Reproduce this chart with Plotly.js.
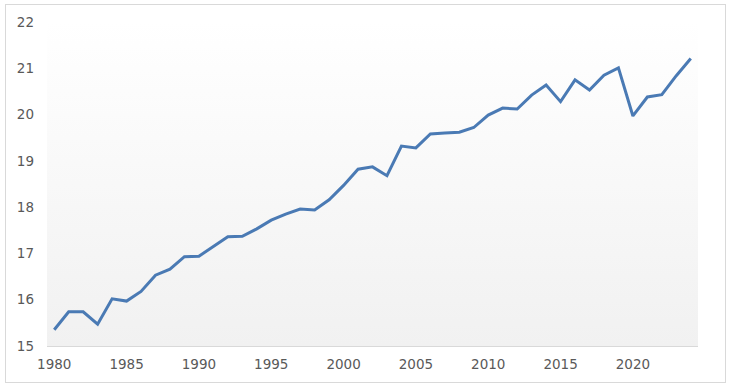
<!DOCTYPE html>
<html>
<head>
<meta charset="utf-8">
<script src="https://cdn.plot.ly/plotly-3.0.1.min.js"></script>
<style>
  html, body { margin: 0; padding: 0; background: #ffffff; }
  #frame { position: absolute; left: 5px; top: 4px; width: 721px; height: 379px; border: 1px solid #d9d9d9; box-sizing: border-box; }
  #chart { position: absolute; left: 0; top: 0; width: 733px; height: 392px; }
</style>
</head>
<body>
<div id="frame"></div>
<div id="chart"></div>
<script>
const years = [1980,1981,1982,1983,1984,1985,1986,1987,1988,1989,
               1990,1991,1992,1993,1994,1995,1996,1997,1998,1999,
               2000,2001,2002,2003,2004,2005,2006,2007,2008,2009,
               2010,2011,2012,2013,2014,2015,2016,2017,2018,2019,
               2020,2021,2022,2023,2024];
const values = [15.35,15.74,15.74,15.47,16.02,15.97,16.18,16.53,16.66,16.93,
                16.94,17.15,17.36,17.37,17.53,17.72,17.85,17.96,17.94,18.16,
                18.47,18.82,18.87,18.68,19.32,19.28,19.58,19.60,19.62,19.72,
                19.99,20.14,20.12,20.42,20.64,20.28,20.75,20.53,20.85,21.01,
                19.97,20.38,20.43,20.84,21.21];
const xTicks = [1980,1985,1990,1995,2000,2005,2010,2015,2020];
const yTicks = [15,16,17,18,19,20,21,22];

const gradSvg = '<svg xmlns="http://www.w3.org/2000/svg" width="100" height="100" preserveAspectRatio="none">' +
  '<defs><linearGradient id="g" x1="0" y1="0" x2="0" y2="1">' +
  '<stop offset="0" stop-color="#ffffff"/><stop offset="1" stop-color="#f1f1f1"/>' +
  '</linearGradient></defs><rect width="100" height="100" fill="url(#g)"/></svg>';
const gradUri = 'data:image/svg+xml;base64,' + btoa(gradSvg);

const trace = {
  x: years, y: values, type: 'scatter', mode: 'lines',
  line: { color: '#4a7ab4', width: 3, shape: 'linear' },
  hoverinfo: 'skip'
};

const tickFont = { family: 'DejaVu Sans, sans-serif', size: 13.5, color: '#595959' };

const layout = {
  width: 733, height: 392,
  margin: { l: 47, r: 35, t: 22, b: 46, pad: 0 },
  paper_bgcolor: 'rgba(0,0,0,0)',
  plot_bgcolor: 'rgba(0,0,0,0)',
  showlegend: false,
  xaxis: {
    range: [1979.5, 2024.5],
    tickmode: 'array', tickvals: xTicks, ticktext: xTicks.map(String),
    showgrid: false, zeroline: false,
    showline: true, linecolor: '#d9d9d9', linewidth: 1,
    ticks: '', tickfont: tickFont, ticklabelstandoff: 6
  },
  yaxis: {
    range: [15, 22],
    tickmode: 'array', tickvals: yTicks, ticktext: yTicks.map(String),
    showgrid: false, zeroline: false, showline: false,
    ticks: '', tickfont: tickFont, ticklabelstandoff: 12
  },
  images: [{
    source: gradUri, xref: 'paper', yref: 'paper',
    x: 0, y: 1, sizex: 1, sizey: 1, sizing: 'stretch',
    xanchor: 'left', yanchor: 'top', layer: 'below'
  }]
};

Plotly.newPlot('chart', [trace], layout, { displayModeBar: false, staticPlot: true });
</script>
</body>
</html>
